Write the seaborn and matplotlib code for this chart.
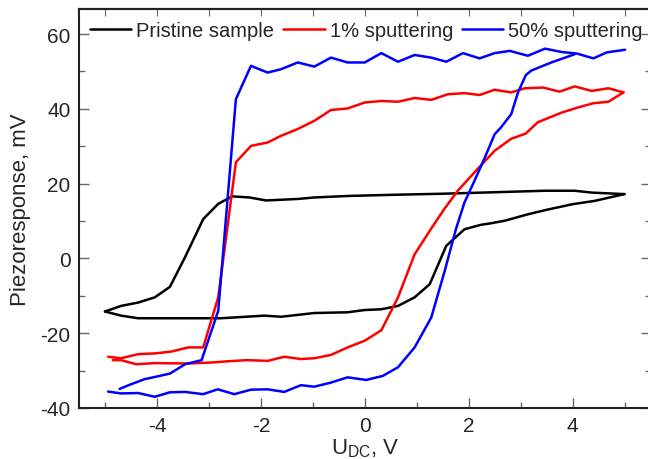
import pandas as pd
import matplotlib
matplotlib.use('Agg')
import matplotlib.pyplot as plt
import seaborn as sns
from matplotlib.ticker import MultipleLocator

samples = ['Pristine sample', '1% sputtering', '50% sputtering']
colors = ['#000000', '#ff0000', '#0000ff']

# branch 1 = switching at negative bias (left -> right)
# branch 2 = switching at positive bias (right -> left)
pristine_u1 = [-5.0, -4.69, -4.36, -4.04, -3.75, -3.46, -3.11, -2.82, -2.55, -2.22, -1.90, -1.29,
               -0.97, -0.33, 0.50, 1.50, 2.50, 3.47, 4.04, 4.37, 5.00]
pristine_p1 = [-14.2, -12.7, -11.8, -10.4, -7.6, 0.3, 10.5, 14.6, 16.6, 16.3, 15.5, 15.9,
               16.3, 16.7, 17.0, 17.3, 17.7, 18.1, 18.1, 17.6, 17.2]
pristine_u2 = [5.00, 4.43, 4.00, 3.50, 3.14, 2.70, 2.43, 2.24, 1.92, 1.57, 1.25, 0.96, 0.64, 0.32,
               0.00, -0.33, -0.97, -1.61, -1.93, -2.77, -3.50, -4.36, -4.69, -5.00]
pristine_p2 = [17.2, 15.4, 14.5, 13.0, 11.8, 10.1, 9.4, 9.0, 7.8, 3.4, -6.9, -10.4, -12.7, -13.6,
               -13.8, -14.4, -14.6, -15.6, -15.3, -16.0, -16.0, -16.0, -15.3, -14.2]

sp1_u1 = [-4.94, -4.69, -4.36, -4.04, -3.72, -3.40, -3.11, -2.82, -2.48, -2.19, -1.87, -1.61, -1.29,
          -0.97, -0.65, -0.33, 0.00, 0.32, 0.64, 0.96, 1.28, 1.60, 1.92, 2.21, 2.50, 2.82, 3.08,
          3.43, 3.75, 4.04, 4.37, 4.69, 4.98]
sp1_p1 = [-26.3, -26.7, -25.6, -25.4, -24.9, -23.8, -23.8, -10.4, 25.7, 30.1, 31.0, 32.8, 34.6,
          36.8, 39.7, 40.1, 41.7, 42.1, 41.9, 42.9, 42.4, 43.9, 44.2, 43.7, 45.1, 44.4, 45.5,
          45.7, 44.6, 46.0, 44.8, 45.5, 44.4]
sp1_u2 = [4.98, 4.69, 4.40, 4.11, 3.79, 3.47, 3.33, 3.10, 2.82, 2.50, 2.17, 1.79, 1.53, 1.28, 0.96,
          0.64, 0.32, 0.00, -0.33, -0.65, -0.97, -1.23, -1.55, -1.87, -2.26, -2.63, -2.90, -3.40,
          -4.04, -4.40, -4.69, -4.85]
sp1_p2 = [44.4, 41.9, 41.5, 40.4, 39.0, 37.2, 36.4, 33.4, 32.0, 28.8, 23.9, 18.1, 13.2, 8.0, 1.1,
          -10.4, -19.2, -22.0, -23.8, -25.8, -26.7, -26.9, -26.3, -27.4, -27.2, -27.5, -27.8, -28.1,
          -28.0, -28.3, -27.2, -27.2]

sp50_u1 = [-4.72, -4.49, -4.24, -4.04, -3.75, -3.46, -3.14, -2.82, -2.48, -2.19, -1.87, -1.61,
           -1.29, -0.97, -0.65, -0.33, 0.00, 0.32, 0.64, 0.96, 1.28, 1.57, 1.89, 2.21, 2.50,
           2.79, 3.14, 3.47, 3.79, 4.08, 4.40, 4.66, 5.01]
sp50_p1 = [-34.9, -33.6, -32.3, -31.7, -30.8, -28.3, -27.2, -14.0, 42.6, 51.5, 49.7, 50.6,
           52.4, 51.3, 53.7, 52.4, 52.4, 54.9, 52.6, 54.4, 53.7, 52.6, 54.9, 53.5, 54.9,
           55.5, 54.2, 56.1, 55.2, 54.8, 53.5, 55.1, 55.8]
sp50_u2 = [4.04, 3.59, 3.20, 3.10, 2.95, 2.82, 2.62, 2.50, 2.30, 2.11, 1.92, 1.75, 1.54, 1.28,
           0.96, 0.64, 0.35, 0.03, -0.33, -0.65, -0.97, -1.23, -1.55, -1.87, -2.19, -2.51, -2.83,
           -3.11, -3.46, -3.75, -4.04, -4.36, -4.69, -4.94]
sp50_p2 = [54.6, 52.4, 50.2, 49.0, 44.4, 38.6, 35.0, 33.2, 26.6, 20.7, 15.0, 7.6, -3.3, -15.8,
           -23.8, -29.1, -31.4, -32.5, -31.8, -33.2, -34.3, -33.9, -35.7, -35.0, -35.1, -36.3, -35.0,
           -36.3, -35.7, -35.8, -37.0, -36.0, -36.1, -35.6]

branches = [
    (samples[0], 1, pristine_u1, pristine_p1), (samples[0], 2, pristine_u2, pristine_p2),
    (samples[1], 1, sp1_u1, sp1_p1), (samples[1], 2, sp1_u2, sp1_p2),
    (samples[2], 1, sp50_u1, sp50_p1), (samples[2], 2, sp50_u2, sp50_p2),
]
rows = []
for name, br, uu, pp in branches:
    for u, p in zip(uu, pp):
        rows.append({'U': u, 'P': p, 'sample': name, 'branch': br})
df = pd.DataFrame(rows)

sns.set_style('ticks')
plt.rcParams['font.family'] = ['Liberation Sans', 'DejaVu Sans']
plt.rcParams['mathtext.default'] = 'regular'
plt.rcParams['axes.unicode_minus'] = False

fig = plt.figure(figsize=(6.48, 4.60), dpi=100)
ax = fig.add_axes([79 / 648, 1 - 409 / 460, 571.5 / 648, 399 / 460])

sns.lineplot(data=df, x='U', y='P', hue='sample', units='branch', estimator=None, sort=False,
             hue_order=samples, palette=colors, linewidth=1.8, ax=ax)

ax.set_xlim(-5.5, 5.5)
ax.set_ylim(-40, 66.7)
ax.xaxis.set_major_locator(MultipleLocator(2))
ax.xaxis.set_minor_locator(MultipleLocator(1))
ax.yaxis.set_major_locator(MultipleLocator(20))
ax.yaxis.set_minor_locator(MultipleLocator(10))
ax.tick_params(which='both', direction='in', right=True, color='#666666', labelsize=15)
ax.tick_params(which='major', length=7, width=1.0)
ax.tick_params(which='minor', length=4, width=1.0)
ax.tick_params(axis='x', pad=6)
ax.tick_params(axis='y', pad=6)

top = ax.secondary_xaxis('top')
top.xaxis.set_major_locator(MultipleLocator(1))
top.tick_params(direction='in', length=5, color='#666666', labeltop=False)
top.spines['top'].set_linewidth(1.5)

for s in ['left', 'bottom', 'top']:
    ax.spines[s].set_linewidth(1.5)
    ax.spines[s].set_color('#222222')
ax.spines['right'].set_visible(False)

ax.set_xlabel('U$_{DC}$, V', fontsize=16, labelpad=1)
ax.set_ylabel('Piezoresponse, mV', fontsize=16, labelpad=7)

handles, labels = ax.get_legend_handles_labels()
ax.legend(handles, labels, loc='center left', bbox_to_anchor=(0.019, 0.945), ncol=3,
          frameon=False, fontsize=14.5, handlelength=2.05, handletextpad=0.25,
          columnspacing=0.45, borderpad=0, borderaxespad=0)

fig.savefig('out.png', dpi=100)
